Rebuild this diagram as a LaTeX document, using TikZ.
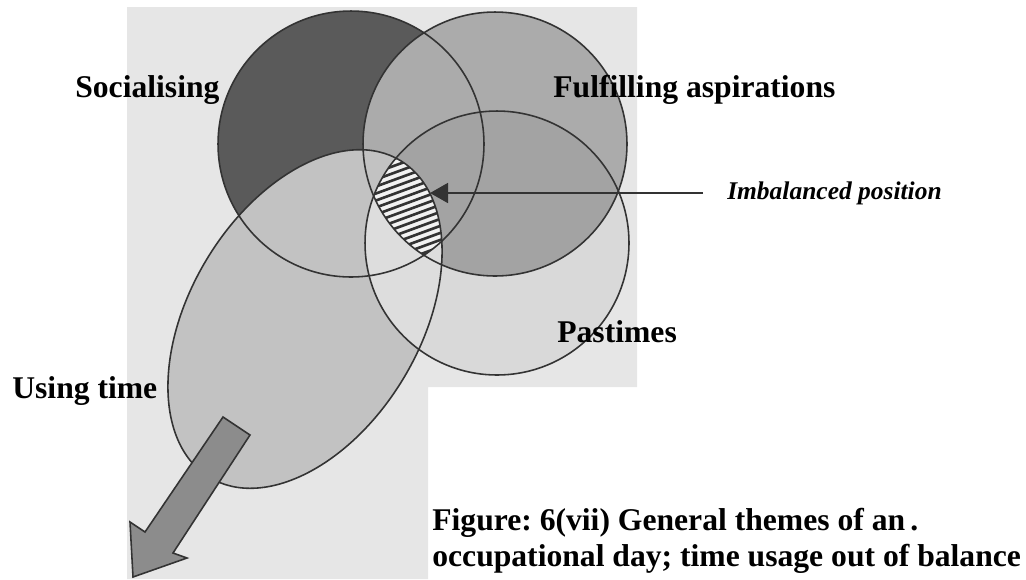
\documentclass[tikz,border=0pt]{standalone}
\usepackage{fontspec}
\setmainfont{Liberation Serif}
\usetikzlibrary{arrows.meta,positioning}
\frenchspacing

\definecolor{panelc}{HTML}{E6E6E6}
\definecolor{socc}{HTML}{5A5A5A}
\definecolor{fulc}{HTML}{ABABAB}
\definecolor{bothc}{HTML}{A3A3A3}
\definecolor{pastc}{HTML}{D9D9D9}
\definecolor{usec}{HTML}{C2C2C2}
\definecolor{palec}{HTML}{DDDDDD}
\definecolor{rimc}{HTML}{333333}
\definecolor{blockc}{HTML}{8C8C8C}

% the four theme shapes (pixel units)
\newcommand{\socpath}{(351,144) circle [radius=2.66cm]}
\newcommand{\fulpath}{(495,144) circle [radius=2.64cm]}
\newcommand{\pastpath}{(497,243) circle [radius=2.64cm]}

\begin{document}
\begin{tikzpicture}[x=0.02cm, y=-0.02cm, >=Stealth,
  rim/.style={draw=rimc, line width=0.9pt},
  usetime/.style={rotate around={59:(305,319)}},
  lab/.style={font=\fontsize{18}{21}\selectfont\bfseries, inner sep=0pt, anchor=base west},
  stripe/.style={line width=1.5pt, draw=black!80}]
  \useasboundingbox (0,0) rectangle (1026,579);
  % grey panel
  \fill[panelc] (127,7) -- (637,7) -- (637,387) -- (428,387) -- (428,579) -- (127,579) -- cycle;

  \fill[pastc] \pastpath;
  \fill[socc] \socpath;
  \fill[fulc] \fulpath;
  \begin{scope}
    \clip \fulpath;
    \fill[bothc] \pastpath;
  \end{scope}
  \fill[usec, usetime] (305,319) ellipse [x radius=3.7cm, y radius=2.3cm];
  \begin{scope}
    \clip[usetime] (305,319) ellipse [x radius=3.7cm, y radius=2.3cm];
    \fill[palec] \pastpath;
  \end{scope}

  % hatched overlap
  \begin{scope}
    \clip[usetime] (305,319) ellipse [x radius=3.7cm, y radius=2.3cm];
    \clip \socpath;
    \clip \fulpath;
    \clip \pastpath;
    \fill[white!95!black] (340,130) rectangle (480,280);
    \foreach \k in {0,...,22}
      \draw[stripe] (350,140+7*\k) -- ++(120,-44);
  \end{scope}

  % outlines
  \draw[rim] \socpath;
  \draw[rim] \fulpath;
  \draw[rim] \pastpath;
  \draw[rim, usetime] (305,319) ellipse [x radius=3.7cm, y radius=2.3cm];

  % pointer
  \coordinate (spot) at (430,193);
  \node[anchor=west, inner xsep=13.6pt, inner ysep=0pt,
        font=\fontsize{14.5}{17}\selectfont\bfseries\itshape] (imb) at (703,193) {Imbalanced position};
  \draw[draw=rimc, line width=1pt, -{Triangle[length=3.6mm, width=4mm]}] (imb.west) -- (spot);

  % block arrow out of the day
  \draw[rim, fill=blockc] (223,417) -- (250,435) -- (173,553) -- (187,558)
    -- (133,577) -- (130,522) -- (145,532) -- cycle;

  % labels
  \node[lab] (soc)  at (75,97)  {Socialising};
  \node[lab] (ful)  at (553,97) {Fulfilling aspirations};
  \node[lab] (past) at (557,342) {Pastimes};
  \node[lab] (use)  at (12,398) {Using time};
  \node[lab] (capA) at (432,530) {Figure: 6(vii) General themes of an\,.};
  \node[lab] (capB) at (432,566) {occupational day; time usage out of balance};
\end{tikzpicture}
\end{document}
